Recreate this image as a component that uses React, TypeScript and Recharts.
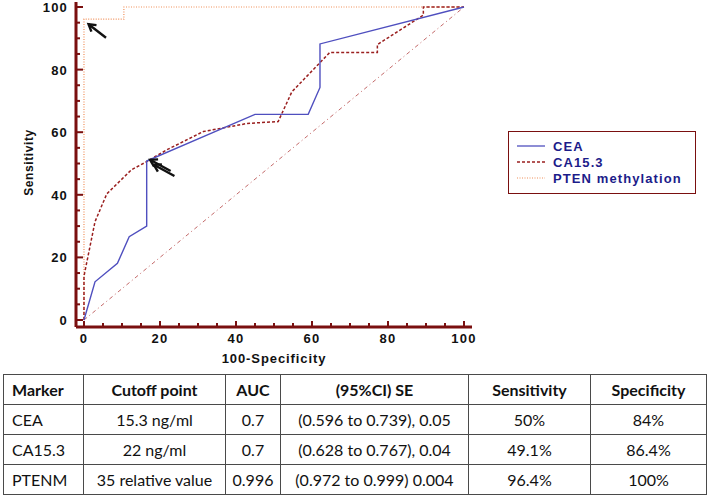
import React from 'react';
import { LineChart, Line, XAxis, YAxis, ReferenceLine, Label } from 'recharts';

// ROC points (x = 100-Specificity, y = Sensitivity)
const ceaX = [0, 2.9, 8.8, 11.9, 16.5, 16.5, 45, 59, 62.1, 62.1, 100];
const ceaY = [0, 12.2, 18.1, 26.6, 30, 50.8, 65.7, 65.7, 74.3, 88.2, 100];

const caX = [0, 0, 2.9, 6, 12.5, 16.5, 22, 31.4, 43, 51.1, 54.7, 64.7, 77.2, 77.2, 89.3, 89.3, 100];
const caY = [0, 14, 31.4, 40.3, 48, 50.6, 54.5, 60.2, 62.8, 63.4, 72.9, 85.5, 85.5, 88, 97.4, 100, 100];

const ptenX = [0, 0, 10.5, 10.5, 100];
const ptenY = [0, 96.1, 96.1, 100, 100];

const diagX = [0, 100];
const diagY = [0, 100];

const xTicks = [0, 5, 10, 15, 20, 25, 30, 35, 40, 45, 50, 55, 60, 65, 70, 75, 80, 85, 90, 95, 100];
const yTicks = [0, 5, 10, 15, 20, 25, 30, 35, 40, 45, 50, 55, 60, 65, 70, 75, 80, 85, 90, 95, 100];

const legendNames = ['CEA', 'CA15.3', 'PTEN methylation'];

const tableHead = ['Marker', 'Cutoff point', 'AUC', '(95%CI) SE', 'Sensitivity', 'Specificity'];
const markers = ['CEA', 'CA15.3', 'PTENM'];
const cutoffs = ['15.3 ng/ml', '22 ng/ml', '35 relative value'];
const aucs = ['0.7', '0.7', '0.996'];
const ciSe = ['(0.596 to 0.739), 0.05', '(0.628 to 0.767), 0.04', '(0.972 to 0.999) 0.004'];
const sens = ['50%', '49.1%', '96.4%'];
const spec = ['84%', '86.4%', '100%'];

const zip = (xs: number[], ys: number[]) => xs.map((x, i) => ({ x, y: ys[i] }));

const ceaData = zip(ceaX, ceaY);
const caData = zip(caX, caY);
const ptenData = zip(ptenX, ptenY);
const diagData = zip(diagX, diagY);

const AXIS = '#7a0f0f';
const BLUE = '#4f4fbf';
const RED = '#9a1f1f';
const ORANGE = '#f0905a';
const DIAG = '#c46a6a';
const TXT = "'Liberation Sans', Arial, sans-serif";

const XTick = (props: any) => {
  const { x, y, payload } = props;
  const major = payload.value % 20 === 0;
  return (
    <g>
      <line x1={x} x2={x} y1={y} y2={y - (major ? 6 : 4)} stroke={AXIS} strokeWidth={2} />
      {major && (
        <text x={x} y={y + 16} textAnchor="middle" fontFamily={TXT} fontWeight="bold" fontSize={13}
          letterSpacing={1.2} fill="#111">
          {payload.value}
        </text>
      )}
    </g>
  );
};

const YTick = (props: any) => {
  const { x, y, payload } = props;
  const major = payload.value % 20 === 0;
  return (
    <g>
      <line x1={x} x2={x + (major ? 7 : 4)} y1={y} y2={y} stroke={AXIS} strokeWidth={2} />
      {major && (
        <text x={x - 8} y={y + 5} textAnchor="end" fontFamily={TXT} fontWeight="bold" fontSize={13}
          letterSpacing={1.2} fill="#111">
          {payload.value}
        </text>
      )}
    </g>
  );
};

// simple arrow drawn along a reference segment, head at the second point
const arrowShape = (props: any) => {
  const { x1, y1, x2, y2 } = props;
  const a = Math.atan2(y2 - y1, x2 - x1);
  const h = 8;
  const l = { x: x2 - h * Math.cos(a - 0.55), y: y2 - h * Math.sin(a - 0.55) };
  const r = { x: x2 - h * Math.cos(a + 0.55), y: y2 - h * Math.sin(a + 0.55) };
  return (
    <g>
      <line x1={x1} y1={y1} x2={x2} y2={y2} stroke="#111" strokeWidth={2.4} />
      <polyline points={`${l.x},${l.y} ${x2},${y2} ${r.x},${r.y}`} fill="none" stroke="#111" strokeWidth={2.4} />
    </g>
  );
};

const legendStyles = [
  { color: BLUE, dash: undefined, w: 1.3 },
  { color: RED, dash: '3 2', w: 1.5 },
  { color: ORANGE, dash: '1 1.5', w: 1.2 },
];

const LegendBox = () => (
  <div style={{
    position: 'absolute', left: 508, top: 131, border: `1.5px solid ${AXIS}`, width: 188, height: 63,
    boxSizing: 'border-box', padding: '6px 0 0 8px',
  }}>
    {legendNames.map((n, i) => (
      <div key={n} style={{ display: 'flex', alignItems: 'center', height: 16 }}>
        <svg width={30} height={6}>
          <line x1={0} x2={28} y1={3} y2={3} stroke={legendStyles[i].color} strokeWidth={legendStyles[i].w}
            strokeDasharray={legendStyles[i].dash} />
        </svg>
        <span style={{ marginLeft: 6, fontFamily: TXT, fontWeight: 'bold', fontSize: 13, letterSpacing: 1.1, color: '#1c1c8a' }}>
          {n}
        </span>
      </div>
    ))}
  </div>
);

const cell: React.CSSProperties = {
  border: '1.5px solid #4a4a4a',
  height: 29,
  padding: 0,
  textAlign: 'center',
  fontFamily: "Lato, 'Open Sans', sans-serif",
  fontSize: 16,
  color: '#111',
};

export default function App() {
  const colW = [80, 142, 55, 188, 122, 116];
  const rows = markers.map((m, i) => [m, cutoffs[i], aucs[i], ciSe[i], sens[i], spec[i]]);
  return (
    <div style={{ position: 'absolute', left: 0, top: 0, width: 709, height: 496, background: '#fff', overflow: 'hidden' }}>
      <LineChart width={709} height={370} margin={{ top: 2, right: 237, bottom: 0, left: 6 }}>
        <XAxis type="number" dataKey="x" domain={[-2.1, 102.1]} ticks={xTicks} allowDataOverflow
          axisLine={{ stroke: AXIS, strokeWidth: 3 }} tickLine={false} tickSize={0} tickMargin={0}
          tick={<XTick />} height={43} interval={0}>
          <Label content={(p: any) => {
            const vb = p.viewBox;
            return (
              <text x={vb.x + vb.width / 2} y={vb.y + 36} textAnchor="middle" fontFamily={TXT} fontWeight="bold"
                fontSize={13} letterSpacing={0.9} fill="#111">100-Specificity</text>
            );
          }} />
        </XAxis>
        <YAxis type="number" dataKey="y" domain={[-2.24, 101.6]} ticks={yTicks} allowDataOverflow
          axisLine={{ stroke: AXIS, strokeWidth: 3 }} tickLine={false} tickSize={0} tickMargin={0}
          tick={<YTick />} width={70} interval={0}>
          <Label content={(p: any) => {
            const vb = p.viewBox;
            const cx = vb.x + 27;
            const cy = vb.y + vb.height / 2 - 2;
            return (
              <text x={cx} y={cy} transform={`rotate(-90 ${cx} ${cy})`} textAnchor="middle" fontFamily={TXT}
                fontWeight="bold" fontSize={12} letterSpacing={0.6} fill="#111">Sensitivity</text>
            );
          }} />
        </YAxis>
        <Line data={diagData} dataKey="y" type="linear" stroke={DIAG} strokeWidth={1} strokeDasharray="4 3 1 3"
          dot={false} isAnimationActive={false} legendType="none" />
        <Line data={ptenData} dataKey="y" name="PTEN methylation" type="linear" stroke={ORANGE} strokeWidth={1.2}
          strokeDasharray="1 1.5" dot={false} isAnimationActive={false} />
        <Line data={caData} dataKey="y" name="CA15.3" type="linear" stroke={RED} strokeWidth={1.5}
          strokeDasharray="3 2" dot={false} isAnimationActive={false} />
        <Line data={ceaData} dataKey="y" name="CEA" type="linear" stroke={BLUE} strokeWidth={1.4}
          dot={false} isAnimationActive={false} />
        <ReferenceLine segment={[{ x: 5.8, y: 90.2 }, { x: 1.2, y: 94.5 }]} shape={arrowShape} ifOverflow="visible" />
        <ReferenceLine segment={[{ x: 22.8, y: 47.6 }, { x: 17.4, y: 51.2 }]} shape={arrowShape} ifOverflow="visible" />
        <ReferenceLine segment={[{ x: 23.8, y: 46.0 }, { x: 18.4, y: 49.6 }]} shape={arrowShape} ifOverflow="visible" />
      </LineChart>
      <LegendBox />
      <table style={{ position: 'absolute', left: 3, top: 374, borderCollapse: 'collapse', tableLayout: 'fixed', width: 703 }}>
        <colgroup>
          {colW.map((w, i) => <col key={i} style={{ width: w }} />)}
        </colgroup>
        <tbody>
          <tr>
            {tableHead.map((h, i) => (
              <td key={h} style={{ ...cell, fontWeight: 'bold', textAlign: i === 0 ? 'left' : 'center', paddingLeft: i === 0 ? 8 : 0 }}>{h}</td>
            ))}
          </tr>
          {rows.map((r, ri) => (
            <tr key={ri}>
              {r.map((v, i) => (
                <td key={i} style={{ ...cell, textAlign: i === 0 ? 'left' : 'center', paddingLeft: i === 0 ? 8 : 0 }}>{v}</td>
              ))}
            </tr>
          ))}
        </tbody>
      </table>
    </div>
  );
}
